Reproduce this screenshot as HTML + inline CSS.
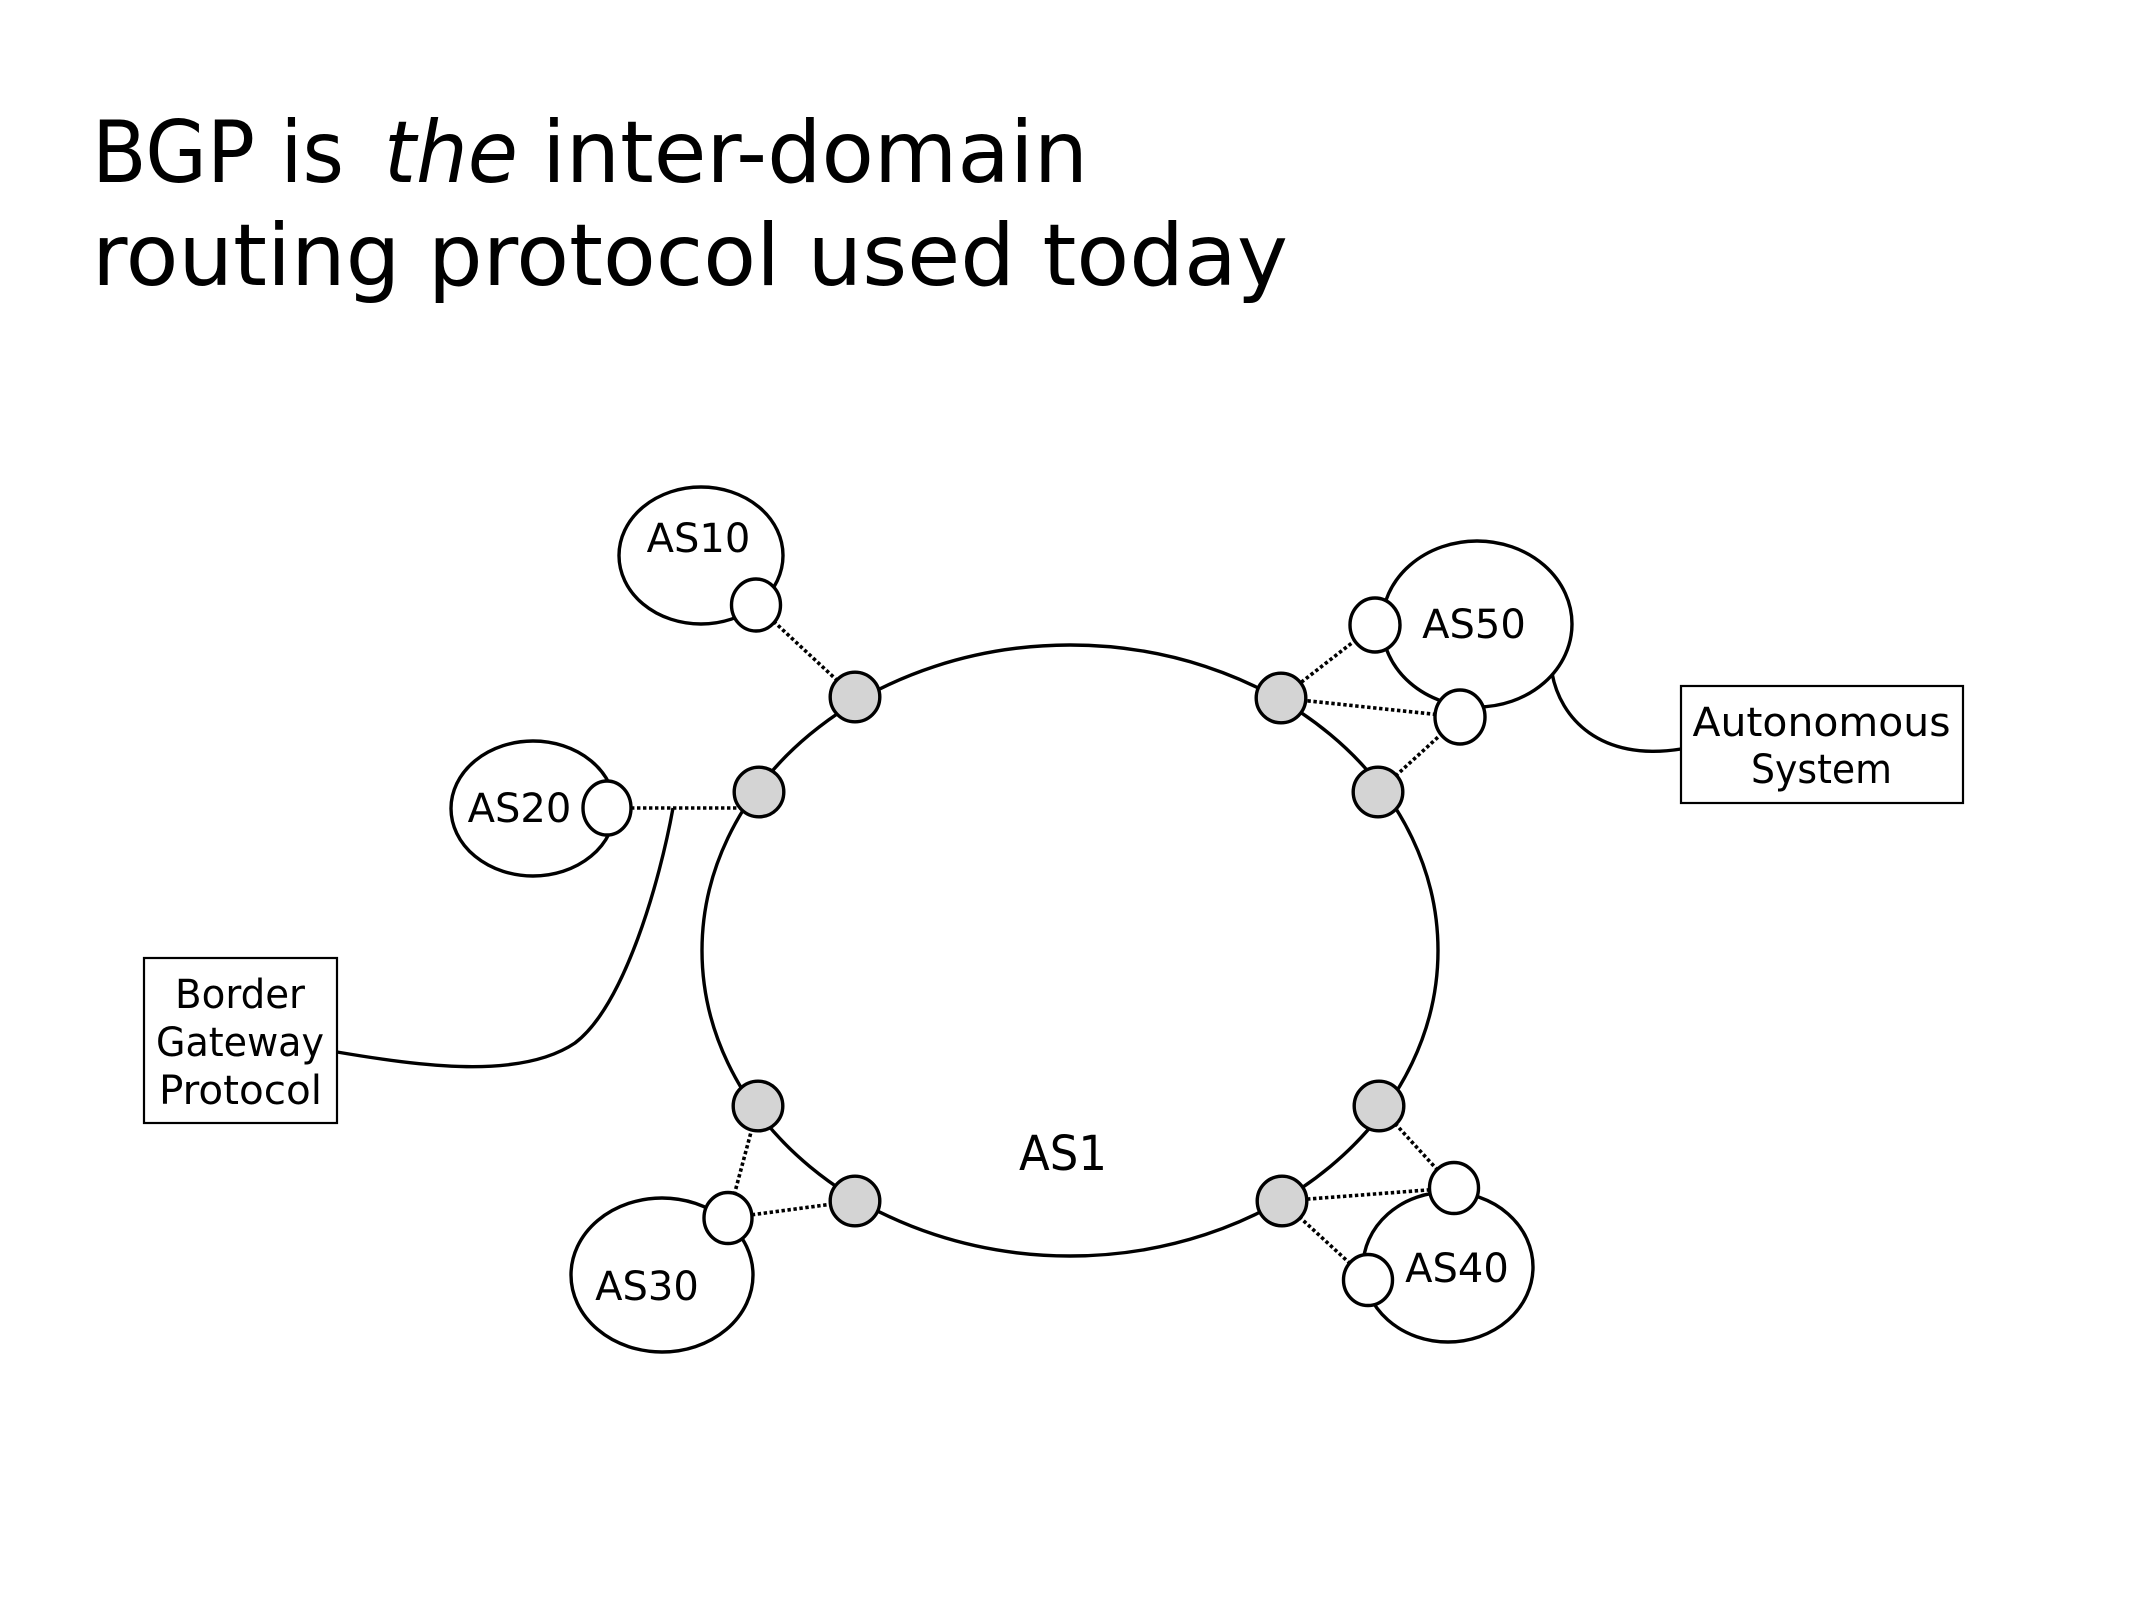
<!DOCTYPE html>
<html>
<head>
<meta charset="utf-8">
<style>
  html, body { margin: 0; padding: 0; background: #ffffff; }
  body { width: 2134px; height: 1600px; overflow: hidden; }
  svg { display: block; }
  text { font-family: "DejaVu Sans", "Liberation Sans", sans-serif; fill: #000; }
</style>
</head>
<body>
<svg width="2134" height="1600" viewBox="0 0 2134 1600" xmlns="http://www.w3.org/2000/svg">
  <rect x="0" y="0" width="2134" height="1600" fill="#ffffff"/>

  <!-- Title -->
  <text x="92" y="182" font-size="86" textLength="252" lengthAdjust="spacingAndGlyphs">BGP is</text>
  <text x="384" y="182" font-size="86" font-style="italic" textLength="134" lengthAdjust="spacingAndGlyphs">the</text>
  <text x="542" y="182" font-size="86" textLength="546" lengthAdjust="spacingAndGlyphs">inter-domain</text>
  <text x="92" y="285" font-size="86" textLength="1196" lengthAdjust="spacingAndGlyphs">routing protocol used today</text>

  <!-- Dotted links -->
  <g stroke="#000" stroke-width="3.6" stroke-dasharray="3.4 2.6" fill="none">
    <line x1="756" y1="605" x2="855" y2="697"/>
    <line x1="607" y1="808" x2="742" y2="808"/>
    <line x1="728" y1="1218" x2="758" y2="1106"/>
    <line x1="728" y1="1218" x2="855" y2="1201"/>
    <line x1="1454" y1="1188" x2="1379" y2="1106"/>
    <line x1="1454" y1="1188" x2="1282" y2="1201"/>
    <line x1="1368" y1="1280" x2="1282" y2="1201"/>
    <line x1="1375" y1="625" x2="1281" y2="698"/>
    <line x1="1460" y1="717" x2="1281" y2="698"/>
    <line x1="1460" y1="717" x2="1378" y2="792"/>
  </g>

  <!-- Callout curves -->
  <g stroke="#000" stroke-width="3.4" fill="none">
    <path d="M337,1052 C420,1066 520,1080 575,1043 C625,1005 660,880 673,808"/>
    <path d="M1552,673 C1560,718 1600,762 1681,749"/>
  </g>

  <!-- Main AS1 ellipse -->
  <ellipse cx="1070" cy="950.5" rx="368" ry="305.5" fill="none" stroke="#000" stroke-width="3.4"/>

  <!-- Neighbor AS ellipses -->
  <g fill="#fff" stroke="#000" stroke-width="3.4">
    <ellipse cx="701" cy="555.5" rx="82" ry="68.5"/>
    <ellipse cx="533" cy="808.5" rx="82" ry="67.5"/>
    <ellipse cx="662" cy="1275" rx="91" ry="77"/>
    <ellipse cx="1448" cy="1267" rx="85" ry="75"/>
    <ellipse cx="1477" cy="624" rx="95" ry="83"/>
  </g>

  <!-- White border routers -->
  <g fill="#fff" stroke="#000" stroke-width="3.4">
    <ellipse cx="756" cy="605" rx="24.5" ry="26"/>
    <ellipse cx="607" cy="808" rx="24" ry="27"/>
    <ellipse cx="728" cy="1218" rx="24" ry="25.5"/>
    <ellipse cx="1454" cy="1188" rx="24.5" ry="25.5"/>
    <ellipse cx="1368" cy="1280" rx="24.5" ry="25.5"/>
    <ellipse cx="1375" cy="625" rx="25" ry="27"/>
    <ellipse cx="1460" cy="717" rx="25" ry="27"/>
  </g>

  <!-- Gray border routers on AS1 -->
  <g fill="#d4d4d4" stroke="#000" stroke-width="3.4">
    <circle cx="855" cy="697" r="24.8"/>
    <circle cx="759" cy="792" r="24.8"/>
    <circle cx="1281" cy="698" r="24.8"/>
    <circle cx="1378" cy="792" r="24.8"/>
    <circle cx="758" cy="1106" r="24.8"/>
    <circle cx="855" cy="1201" r="24.8"/>
    <circle cx="1379" cy="1106" r="24.8"/>
    <circle cx="1282" cy="1201" r="24.8"/>
  </g>

  <!-- AS labels -->
  <g font-size="40" text-anchor="middle">
    <text x="698.5" y="552">AS10</text>
    <text x="519.5" y="822">AS20</text>
    <text x="647" y="1300">AS30</text>
    <text x="1457" y="1282">AS40</text>
    <text x="1474" y="638">AS50</text>
  </g>
  <text x="1063" y="1170" font-size="48" text-anchor="middle" textLength="88" lengthAdjust="spacingAndGlyphs">AS1</text>

  <!-- Callout boxes -->
  <rect x="144" y="958" width="193" height="165" fill="#fff" stroke="#000" stroke-width="2.2"/>
  <g font-size="40" text-anchor="middle">
    <text x="240" y="1008" textLength="130" lengthAdjust="spacingAndGlyphs">Border</text>
    <text x="240" y="1056" textLength="168" lengthAdjust="spacingAndGlyphs">Gateway</text>
    <text x="240.5" y="1104" textLength="163" lengthAdjust="spacingAndGlyphs">Protocol</text>
  </g>

  <rect x="1681" y="686" width="282" height="117" fill="#fff" stroke="#000" stroke-width="2.2"/>
  <g font-size="40" text-anchor="middle">
    <text x="1821.5" y="736" textLength="258" lengthAdjust="spacingAndGlyphs">Autonomous</text>
    <text x="1821.5" y="783" textLength="141" lengthAdjust="spacingAndGlyphs">System</text>
  </g>
</svg>
</body>
</html>
